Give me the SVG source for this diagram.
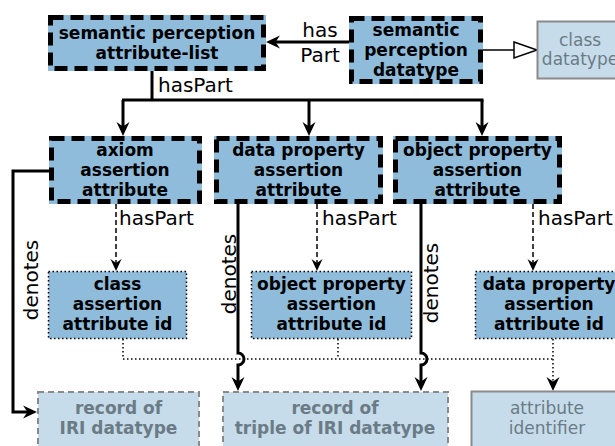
<svg xmlns="http://www.w3.org/2000/svg" width="615" height="446" viewBox="0 0 615 446">
<defs>
<style>
.bg{fill:#ffffff}
.main{fill:#8fbcdb;stroke:#8fbcdb;stroke-width:5}
.dash{fill:none;stroke:#000;stroke-width:5;stroke-dasharray:13,7}
.idn{fill:#8fbcdb;stroke:#000;stroke-width:1.5;stroke-dasharray:1.5,2.5}
.lite{fill:#c6dcea;stroke:#8a8a8a;stroke-width:2;stroke-dasharray:6,4}
.lites{fill:#c6dcea;stroke:#8a8a8a;stroke-width:2}
.t{font-family:"DejaVu Sans",sans-serif;font-size:17px;font-weight:bold;fill:#000;text-anchor:middle}
.tg{font-family:"DejaVu Sans",sans-serif;font-size:17px;font-weight:bold;fill:#6b7b85;text-anchor:middle}
.tgn{font-family:"DejaVu Sans",sans-serif;font-size:17px;fill:#6b7b85;text-anchor:middle}
.lbl{font-family:"DejaVu Sans",sans-serif;font-size:20px;fill:#000}
.thick{fill:none;stroke:#000;stroke-width:3}
.thin{fill:none;stroke:#000;stroke-width:1.5}
.dsh{fill:none;stroke:#000;stroke-width:1.5;stroke-dasharray:5,3}
.dot{fill:none;stroke:#000;stroke-width:1.5;stroke-dasharray:1.5,2.5}
</style>
<marker id="arr" markerUnits="userSpaceOnUse" markerWidth="16" markerHeight="16" viewBox="0 0 16 16" refX="11" refY="8" orient="auto">
<path d="M1,1.5 L15,8 L1,14.5 L5.5,8 z" fill="#000"/>
</marker>
<marker id="arrs" markerUnits="userSpaceOnUse" markerWidth="14" markerHeight="14" viewBox="0 0 14 14" refX="9" refY="7" orient="auto">
<path d="M1,1.5 L13,7 L1,12.5 L5,7 z" fill="#000"/>
</marker>
</defs>
<rect class="bg" x="0" y="0" width="615" height="446"/>

<g id="connectors">
<line class="thick" x1="349" y1="42" x2="270" y2="42" marker-end="url(#arr)"/>
<text class="lbl" x="320" y="37" text-anchor="middle">has</text>
<text class="lbl" x="320" y="62" text-anchor="middle">Part</text>
<line class="thin" x1="483" y1="50" x2="514" y2="50"/>
<path d="M514,42 L537,50 L514,58 z" fill="#fff" stroke="#000" stroke-width="1.5"/>
<path class="thick" d="M152,71 V100 M122,100 H483.5"/>
<line class="thick" x1="123" y1="100" x2="123" y2="132" marker-end="url(#arr)"/>
<line class="thick" x1="309" y1="100" x2="309" y2="132" marker-end="url(#arr)"/>
<line class="thick" x1="482" y1="100" x2="482" y2="132" marker-end="url(#arr)"/>
<text class="lbl" x="158" y="92">hasPart</text>
<line class="dsh" x1="116" y1="204" x2="116" y2="267" marker-end="url(#arrs)"/>
<line class="dsh" x1="317" y1="204" x2="317" y2="267" marker-end="url(#arrs)"/>
<line class="dsh" x1="533" y1="204" x2="533" y2="267" marker-end="url(#arrs)"/>
<text class="lbl" x="119" y="225">hasPart</text>
<text class="lbl" x="322" y="225">hasPart</text>
<text class="lbl" x="538" y="225">hasPart</text>
<path class="thick" d="M49,171 H13 V412 H33" marker-end="url(#arr)"/>
<path class="thick" d="M238,204 V353 a6,6 0 0 1 0,12 V387" marker-end="url(#arr)"/>
<path class="thick" d="M421,204 V353 a6,6 0 0 1 0,12 V387" marker-end="url(#arr)"/>
<text class="lbl" transform="translate(38,280) rotate(-90)" text-anchor="middle">denotes</text>
<text class="lbl" transform="translate(236,274) rotate(-90)" text-anchor="middle">denotes</text>
<text class="lbl" transform="translate(438,283) rotate(-90)" text-anchor="middle">denotes</text>
<path class="dot" d="M123,339 V359 H553 M338,339 V359"/>
<line class="dot" x1="553" y1="339" x2="553" y2="387" marker-end="url(#arr)"/>
</g>

<g id="spal">
<rect class="main" x="50.5" y="17.5" width="213" height="51"/>
<rect class="dash" x="50.5" y="17.5" width="213" height="51"/>
<text class="t" x="157" y="39">semantic perception</text>
<text class="t" x="157" y="59">attribute-list</text>
</g>
<g id="spd">
<rect class="main" x="351.5" y="18.5" width="129" height="63"/>
<rect class="dash" x="351.5" y="18.5" width="129" height="63"/>
<text class="t" x="416" y="36">semantic</text>
<text class="t" x="416" y="56">perception</text>
<text class="t" x="416" y="76">datatype</text>
</g>
<g id="classdt">
<rect class="lites" x="537.5" y="21.5" width="86" height="57" stroke-width="1.5"/>
<text class="tgn" x="580" y="46">class</text>
<text class="tgn" x="580" y="65">datatype</text>
</g>
<g id="axiom">
<rect class="main" x="51.5" y="138.5" width="148" height="63"/>
<rect class="dash" x="51.5" y="138.5" width="148" height="63"/>
<text class="t" x="125" y="156">axiom</text>
<text class="t" x="125" y="176">assertion</text>
<text class="t" x="125" y="196">attribute</text>
</g>
<g id="dpa">
<rect class="main" x="216.5" y="138.5" width="164" height="63"/>
<rect class="dash" x="216.5" y="138.5" width="164" height="63"/>
<text class="t" x="298.5" y="156">data property</text>
<text class="t" x="298.5" y="176">assertion</text>
<text class="t" x="298.5" y="196">attribute</text>
</g>
<g id="opa">
<rect class="main" x="395.5" y="138.5" width="164" height="63"/>
<rect class="dash" x="395.5" y="138.5" width="164" height="63"/>
<text class="t" x="477.5" y="156">object property</text>
<text class="t" x="477.5" y="176">assertion</text>
<text class="t" x="477.5" y="196">attribute</text>
</g>
<g id="classid">
<rect class="idn" x="48.5" y="271.5" width="138" height="67"/>
<text class="t" x="117.5" y="290">class</text>
<text class="t" x="117.5" y="310">assertion</text>
<text class="t" x="117.5" y="330">attribute id</text>
</g>
<g id="opid">
<rect class="idn" x="251.5" y="271.5" width="160" height="67"/>
<text class="t" x="331.5" y="290">object property</text>
<text class="t" x="331.5" y="310">assertion</text>
<text class="t" x="331.5" y="330">attribute id</text>
</g>
<g id="dpid">
<rect class="idn" x="475.5" y="271.5" width="147" height="67"/>
<text class="t" x="549" y="290">data property</text>
<text class="t" x="549" y="310">assertion</text>
<text class="t" x="549" y="330">attribute id</text>
</g>
<g id="iri">
<rect class="lite" x="38" y="392" width="161" height="70"/>
<text class="tg" x="118.5" y="414">record of</text>
<text class="tg" x="118.5" y="434">IRI datatype</text>
</g>
<g id="triple">
<rect class="lite" x="223" y="392" width="225" height="70"/>
<text class="tg" x="335" y="414">record of</text>
<text class="tg" x="335" y="434">triple of IRI datatype</text>
</g>
<g id="attrid">
<rect class="lites" x="471.5" y="391.5" width="152" height="70"/>
<text class="tgn" x="547" y="414">attribute</text>
<text class="tgn" x="547" y="434">identifier</text>
</g>
</svg>
